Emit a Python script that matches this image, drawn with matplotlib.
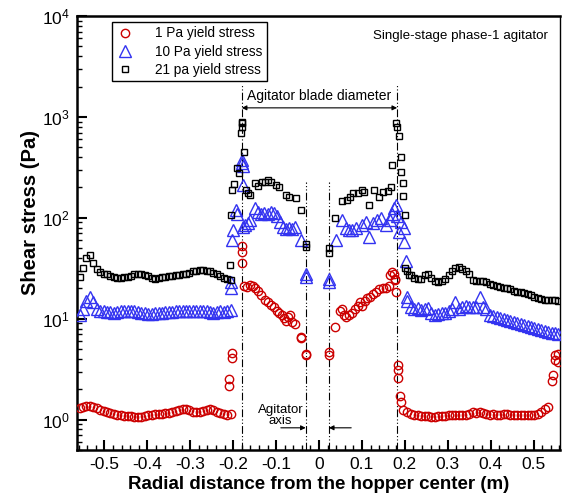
import matplotlib
matplotlib.use("Agg")
import matplotlib.pyplot as plt
from matplotlib.ticker import FixedLocator, FuncFormatter, LogLocator, NullFormatter

plt.rcParams['font.family'] = ['Liberation Sans', 'DejaVu Sans']
plt.rcParams['mathtext.fontset'] = 'custom'
plt.rcParams['mathtext.rm'] = 'Liberation Sans'
plt.rcParams['mathtext.default'] = 'regular'
plt.rcParams['axes.unicode_minus'] = False

# ---------------- data ----------------
x_out_left = [-0.558, -0.550, -0.542, -0.534, -0.526, -0.518, -0.510, -0.502, -0.494, -0.486,
              -0.478, -0.470, -0.462, -0.454, -0.446, -0.438, -0.430, -0.422, -0.414, -0.406,
              -0.398, -0.390, -0.382, -0.374, -0.366, -0.358, -0.350, -0.342, -0.334, -0.326,
              -0.318, -0.310, -0.302, -0.294, -0.286, -0.278, -0.270, -0.262, -0.254, -0.246,
              -0.238, -0.230, -0.222, -0.214, -0.206]
x_out_right = [0.206, 0.214, 0.222, 0.230, 0.238, 0.246, 0.254, 0.262, 0.270, 0.278,
               0.286, 0.294, 0.302, 0.310, 0.318, 0.326, 0.334, 0.342, 0.350, 0.358,
               0.366, 0.374, 0.382, 0.390, 0.398, 0.406, 0.414, 0.422, 0.430, 0.438,
               0.446, 0.454, 0.462, 0.470, 0.478, 0.486, 0.494, 0.502, 0.510, 0.518,
               0.526, 0.534, 0.542, 0.550, 0.558]

# 1 Pa yield stress
y1_out_left = [1.30, 1.34, 1.38, 1.38, 1.34, 1.30, 1.26, 1.22, 1.19, 1.16,
               1.14, 1.12, 1.10, 1.09, 1.08, 1.08, 1.07, 1.07, 1.07, 1.08,
               1.10, 1.12, 1.13, 1.14, 1.15, 1.16, 1.17, 1.19, 1.22, 1.26,
               1.28, 1.27, 1.24, 1.20, 1.18, 1.19, 1.22, 1.26, 1.27, 1.24,
               1.20, 1.16, 1.14, 1.12, 1.13]
x1_inner = [-0.209, -0.209, -0.203, -0.202, -0.180, -0.180, -0.180, -0.174, -0.167, -0.160,
            -0.155, -0.150, -0.143, -0.135, -0.127, -0.120, -0.112, -0.105, -0.098, -0.093,
            -0.087, -0.082, -0.076, -0.072, -0.068, -0.063, -0.057, -0.043, -0.041, -0.031,
            -0.030,
            0.023, 0.024, 0.038, 0.050, 0.053, 0.058, 0.062, 0.070, 0.076, 0.083,
            0.090, 0.095, 0.100, 0.106, 0.112, 0.118, 0.125, 0.132, 0.140, 0.148,
            0.155, 0.162, 0.166, 0.170, 0.174, 0.176, 0.178, 0.180, 0.183, 0.183,
            0.185, 0.188, 0.190, 0.195]
y1_inner = [2.5, 2.15, 4.6, 4.1, 52, 46, 36, 21, 20.5, 21.5,
            21, 20, 19, 17, 15.5, 14.5, 13.8, 13, 12, 11.5,
            10.8, 10.2, 9.5, 10.5, 10.8, 9.3, 8.8, 6.6, 6.4, 4.4,
            4.5,
            4.4, 4.7, 8.3, 12, 12.5, 11, 10.5, 11, 11.5, 12.5,
            13.5, 14.5, 13.5, 15, 16, 16.5, 17.5, 18.5, 19.5, 20,
            20, 21, 27, 29, 28, 25, 24, 18.5, 3.5, 3.1,
            2.6, 1.7, 1.48, 1.25]
y1_out_right = [1.18, 1.14, 1.12, 1.10, 1.09, 1.08, 1.08, 1.07, 1.07, 1.08,
                1.09, 1.09, 1.10, 1.10, 1.11, 1.11, 1.12, 1.12, 1.15, 1.18,
                1.16, 1.19, 1.16, 1.13, 1.12, 1.14, 1.12, 1.11, 1.13, 1.14,
                1.12, 1.10, 1.11, 1.12, 1.11, 1.10, 1.11, 1.12, 1.15, 1.20,
                1.27, 1.33]
x1_edge = [0.543, 0.545, 0.550, 0.551, 0.556, 0.558]
y1_edge = [2.4, 2.75, 4.4, 3.9, 4.5, 3.7]

# 10 Pa yield stress
y10_out_left = [11.0, 12.5, 15.0, 16.5, 14.5, 12.5, 12.0, 11.8, 11.7, 11.6,
                11.5, 11.6, 11.8, 11.9, 12.0, 11.9, 11.8, 11.6, 11.4, 11.3,
                11.2, 11.2, 11.3, 11.4, 11.5, 11.6, 11.6, 11.7, 11.8, 11.8,
                11.9, 12.0, 12.0, 11.9, 11.8, 11.9, 12.0, 11.8, 11.6, 11.5,
                11.7, 11.9, 11.7, 11.8, 12.3]
x10_inner = [-0.205, -0.204, -0.203, -0.201, -0.193, -0.190, -0.180, -0.179, -0.178, -0.177,
             -0.178, -0.172, -0.166, -0.160, -0.150, -0.143, -0.136, -0.128, -0.120, -0.112,
             -0.105, -0.098, -0.090, -0.083, -0.076, -0.070, -0.063, -0.055, -0.043, -0.031,
             -0.031,
             0.023, 0.024, 0.040, 0.054, 0.062, 0.070, 0.078, 0.086, 0.100, 0.110,
             0.117, 0.125, 0.135, 0.145, 0.155, 0.165, 0.170, 0.175, 0.180, 0.182,
             0.186, 0.190, 0.197, 0.198, 0.203, 0.204]
y10_inner = [20, 23, 60, 76, 120, 110, 375, 350, 330, 211,
             82, 85, 88, 95, 125, 115, 110, 112, 108, 115,
             112, 105, 90, 82, 78, 80, 78, 82, 60, 26,
             28,
             23, 25, 60, 95, 80, 76, 75, 80, 85, 90,
             65, 88, 95, 100, 85, 95, 110, 125, 135, 105,
             72, 90, 80, 57, 37, 16.5]
y10_out_right = [15.0, 13.0, 12.5, 12.8, 12.2, 12.5, 12.8, 11.5, 11.0, 11.2,
                 11.5, 11.5, 12.0, 12.5, 14.5, 12.5, 13.2, 13.5, 13.0, 13.2,
                 13.2, 16.5, 13.0, 12.5, 11.0, 10.6, 10.3, 10.1, 9.9, 9.7,
                 9.5, 9.3, 9.1, 8.9, 8.7, 8.5, 8.3, 8.1, 7.9, 7.7,
                 7.5, 7.4, 7.3, 7.2, 7.1]

# 21 Pa yield stress
y21_out_left = [26, 32, 40, 43, 36, 31, 29, 28, 27.5, 26.5,
                26, 25.5, 25.5, 25.8, 26, 26.5, 27.5, 27.8, 27.5, 27,
                26.5, 25.5, 25, 25.5, 26, 26, 26.5, 26.5, 27, 27,
                27.5, 28, 28.5, 29.5, 30, 30.5, 30.5, 30, 29.5, 28.5,
                27.5, 26.5, 25.5, 25, 24]
x21_inner = [-0.207, -0.206, -0.203, -0.199, -0.192, -0.187, -0.182, -0.180, -0.180, -0.180,
             -0.175, -0.171, -0.166, -0.160, -0.150, -0.143, -0.133, -0.126, -0.119, -0.112,
             -0.100, -0.093, -0.077, -0.070, -0.054, -0.042, -0.031, -0.031,
             0.024, 0.024, 0.038, 0.053, 0.065, 0.072, 0.080, 0.090, 0.100, 0.105,
             0.117, 0.127, 0.140, 0.150, 0.160, 0.168, 0.170, 0.180, 0.181, 0.186,
             0.190, 0.190, 0.196, 0.196, 0.200, 0.200, 0.210]
y21_inner = [34, 107, 190, 218, 310, 280, 700, 870, 900, 790,
             450, 190, 175, 170, 220, 205, 225, 228, 235, 225,
             210, 200, 170, 162, 158, 120, 51, 55,
             45, 50, 100, 148, 150, 160, 175, 178, 190, 180,
             135, 190, 161, 181, 185, 203, 335, 870, 800, 650,
             400, 285, 222, 165, 107, 32, 27]
y21_out_right = [30, 27, 25.5, 24.5, 25, 27, 27.5, 25.5, 23.5, 23,
                 23.5, 25, 27, 29.5, 32, 32.5, 31, 30, 28, 24,
                 23.5, 23.5, 23.5, 23, 22, 21.5, 21, 20.5, 20.3, 20,
                 19.5, 19, 18.6, 18.2, 17.8, 17.5, 17, 16.5, 16, 15.7,
                 15.5, 15.3, 15.2, 15.2, 15.1]

labels = ["1 Pa yield stress", "10 Pa yield stress", "21 pa yield stress"]
x_ticks = [-0.5, -0.4, -0.3, -0.2, -0.1, 0.0, 0.1, 0.2, 0.3, 0.4, 0.5]
blade_lines = [-0.180, 0.182]
axis_lines = [-0.031, 0.023]

# ---------------- assemble ----------------
x1 = x_out_left + x1_inner + x_out_right[:42] + x1_edge
y1 = y1_out_left + y1_inner + y1_out_right + y1_edge
x10 = x_out_left + x10_inner + x_out_right
y10 = y10_out_left + y10_inner + y10_out_right
x21 = x_out_left + x21_inner + x_out_right
y21 = y21_out_left + y21_inner + y21_out_right

fig = plt.figure(figsize=(5.62, 4.96), dpi=100)
ax = fig.add_axes([0.137, 0.0927, 0.859, 0.875])

red = '#CC0000'
blue = '#3333F0'
ax.plot(x1, y1, ls='none', marker='o', ms=6, mfc='none', mec=red, mew=1.0, label=labels[0], zorder=3)
ax.plot(x10, y10, ls='none', marker='^', ms=8, mfc='none', mec=blue, mew=1.0, label=labels[1], zorder=3)
ax.plot(x21, y21, ls='none', marker='s', ms=5, mfc='none', mec='black', mew=1.0, label=labels[2], zorder=3)

ax.set_yscale('log')
ax.set_xlim(-0.564, 0.561)
ax.set_ylim(0.5, 1e4)

dashdotdot = (0, (7, 2, 1, 2, 1, 2))
for xv in blade_lines:
    ax.plot([xv, xv], [0.5, 2100], color='black', lw=0.8, ls=dashdotdot, zorder=2)
for xv in axis_lines:
    ax.plot([xv, xv], [0.5, 225], color='black', lw=0.8, ls=dashdotdot, zorder=2)

ax.annotate('', xy=(blade_lines[0], 1230), xytext=(blade_lines[1], 1230),
            arrowprops=dict(arrowstyle='<|-|>', color='black', lw=0.8, mutation_scale=7,
                            shrinkA=0, shrinkB=0))
ax.text(0.0, 1600, 'Agitator blade diameter', ha='center', va='center', fontsize=10)

ax.annotate('', xy=(axis_lines[0], 0.83), xytext=(-0.089, 0.83),
            arrowprops=dict(arrowstyle='-|>', color='black', lw=0.8, mutation_scale=7,
                            shrinkA=0, shrinkB=0))
ax.annotate('', xy=(axis_lines[1], 0.83), xytext=(0.075, 0.83),
            arrowprops=dict(arrowstyle='-|>', color='black', lw=0.8, mutation_scale=7,
                            shrinkA=0, shrinkB=0))
ax.text(-0.090, 1.10, 'Agitator\naxis', ha='center', va='center', fontsize=9.5, linespacing=0.95)

ax.text(0.534, 6400, 'Single-stage phase-1 agitator', ha='right', va='center', fontsize=9.6)

# axes styling
for side in ['left', 'bottom', 'top']:
    ax.spines[side].set_linewidth(1.8)
ax.spines['right'].set_linewidth(1.0)

ax.xaxis.set_major_locator(FixedLocator(x_ticks))
ax.xaxis.set_minor_locator(FixedLocator([v / 100 for v in range(-56, 57, 2)]))
ax.xaxis.set_major_formatter(FuncFormatter(lambda v, p: '0' if abs(v) < 1e-9 else f'{v:.1f}'))
ax.yaxis.set_major_locator(LogLocator(base=10, numticks=10))
ax.yaxis.set_minor_locator(LogLocator(base=10, subs=[2, 3, 4, 5, 6, 7, 8, 9], numticks=20))
ax.yaxis.set_minor_formatter(NullFormatter())
ax.tick_params(which='major', direction='in', length=7, width=1.5, labelsize=12.5,
               top=False, right=False, pad=5)
ax.tick_params(which='minor', direction='in', length=3.5, width=1.0, top=False, right=False)

ax.set_xlabel('Radial distance from the hopper center (m)', fontsize=13.5, fontweight='bold', labelpad=3)
ax.set_ylabel('Shear stress (Pa)', fontsize=14.5, fontweight='bold')
ax.yaxis.set_label_coords(-0.077, 0.548)

leg = ax.legend(loc='upper left', bbox_to_anchor=(0.072, 0.987), borderaxespad=0,
                fontsize=9.8, numpoints=1, handlelength=1.2, handletextpad=1.6,
                borderpad=0.35, labelspacing=0.3, fancybox=False, framealpha=1,
                edgecolor='black')
leg.get_frame().set_linewidth(1.0)

fig.savefig('out.png', dpi=100)
